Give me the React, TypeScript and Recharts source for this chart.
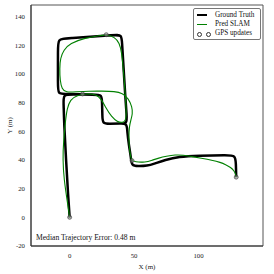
import React from 'react';
import { ScatterChart, Scatter, XAxis, YAxis, ReferenceArea } from 'recharts';

// Ground truth route, in driving order (corner points give the rounded turns)
const groundTruth = [
  { x: 0, y: 0 }, { x: -1.2, y: 15 }, { x: -2.8, y: 40 }, { x: -4.3, y: 65 },
  { x: -4.7, y: 79.5 }, { x: -5, y: 85.5 }, { x: 1, y: 85.6 },
  { x: 19.5, y: 85.5 }, { x: 25, y: 85.5 }, { x: 25.1, y: 80 },
  { x: 25.4, y: 70.5 }, { x: 25.5, y: 65.3 }, { x: 30.5, y: 65.2 },
  { x: 39.5, y: 65.3 }, { x: 44.5, y: 65.5 }, { x: 44.3, y: 70.5 },
  { x: 43, y: 86 }, { x: 41.8, y: 105 },
  { x: 40.6, y: 121.5 }, { x: 40.4, y: 127.3 }, { x: 35, y: 127.1 },
  { x: -3, y: 124.6 }, { x: -9, y: 124.3 }, { x: -9.1, y: 118 },
  { x: -9.1, y: 91.5 }, { x: -9.1, y: 86 }, { x: -3.5, y: 86 },
  { x: 19.5, y: 85.6 }, { x: 25, y: 85.6 }, { x: 25.1, y: 80 },
  { x: 25.4, y: 70.5 }, { x: 25.5, y: 65.3 }, { x: 30.5, y: 65.2 },
  { x: 39.5, y: 65.3 }, { x: 44.5, y: 65.5 }, { x: 44.6, y: 60 },
  { x: 46, y: 50 }, { x: 47.6, y: 41.5 }, { x: 48, y: 36 }, { x: 53, y: 35.6 },
  { x: 60, y: 35.8 }, { x: 66, y: 37.5 }, { x: 74, y: 40 }, { x: 84.5, y: 42.3 },
  { x: 100, y: 43 }, { x: 122.5, y: 43.4 }, { x: 128.5, y: 43.2 }, { x: 129, y: 37.5 },
  { x: 129.2, y: 28 },
];

// SLAM estimate, same route
const predSlam = [
  { x: 0, y: 0 }, { x: -2, y: 12 }, { x: -4.3, y: 26 }, { x: -5.4, y: 40 },
  { x: -4.7, y: 54 }, { x: -3.4, y: 66 }, { x: -2, y: 76 }, { x: 0.5, y: 82 },
  { x: 5.5, y: 85 }, { x: 14, y: 86.3 }, { x: 20.5, y: 85.6 }, { x: 24.5, y: 82.5 },
  { x: 28, y: 76.5 }, { x: 32.5, y: 70 }, { x: 37, y: 66.6 }, { x: 41, y: 65.8 },
  { x: 43.6, y: 67.5 }, { x: 44, y: 73 }, { x: 43.2, y: 85 }, { x: 42.3, y: 96 },
  { x: 41.3, y: 106 }, { x: 40.3, y: 115 }, { x: 38.6, y: 121.5 }, { x: 35, y: 125.7 },
  { x: 28.4, y: 127.3 }, { x: 23.8, y: 126.8 }, { x: 10.9, y: 124.8 }, { x: 0.5, y: 121.3 },
  { x: -4.7, y: 116.7 }, { x: -7.2, y: 110.9 }, { x: -7.8, y: 103.9 }, { x: -7.4, y: 95 },
  { x: -6, y: 89.5 }, { x: -3, y: 87 }, { x: 5, y: 87.5 }, { x: 15, y: 88 },
  { x: 25, y: 88 }, { x: 35, y: 87.8 }, { x: 41, y: 86.5 }, { x: 45.5, y: 83 },
  { x: 48.5, y: 77 }, { x: 48.8, y: 72 }, { x: 47.5, y: 68 }, { x: 46.2, y: 63 },
  { x: 45.9, y: 56 }, { x: 46.3, y: 48 }, { x: 47.3, y: 42 }, { x: 48.4, y: 39.5 },
  { x: 50.5, y: 38.6 }, { x: 58.7, y: 38.3 }, { x: 64, y: 39.8 }, { x: 69, y: 41.3 },
  { x: 75, y: 42.6 }, { x: 81.9, y: 43.6 }, { x: 88, y: 43.4 }, { x: 94.9, y: 42.3 },
  { x: 102, y: 41.2 }, { x: 110.4, y: 39.8 }, { x: 117, y: 38.3 }, { x: 121, y: 36.8 },
  { x: 125, y: 34.8 }, { x: 127.5, y: 32.5 }, { x: 128.8, y: 30 }, { x: 129.2, y: 28 },
];

const gpsUpdates = [
  { x: 0, y: 0 }, { x: 10, y: 86 }, { x: 28.4, y: 127.3 }, { x: 48.4, y: 39.5 }, { x: 129.2, y: 28 },
];

const xTicks = [0, 50, 100];
const yTicks = [-20, 0, 20, 40, 60, 80, 100, 120, 140];
const medianError = 0.48;

const FONT = '"Liberation Serif", "DejaVu Serif", serif';
const tickStyle = { fontSize: 6.8, fill: '#222', fontFamily: FONT };

const noDot = () => <g />;

const GpsDot = (props: any) => (
  <circle cx={props.cx} cy={props.cy} r={2} fill="rgba(140,140,140,0.6)" stroke="#333" strokeWidth={0.6} />
);

const LegendBox = () => (
  <div
    style={{
      position: 'absolute', left: 193, top: 8, width: 66, height: 30,
      border: '1px solid #777', borderRadius: 2, background: '#fff',
      fontFamily: FONT, fontSize: 7.2, color: '#111', whiteSpace: 'nowrap',
    }}
  >
    <div style={{ position: 'absolute', left: 3, top: 4.8, width: 10, height: 2.5, background: '#000' }} />
    <div style={{ position: 'absolute', left: 21, top: 2, lineHeight: '8px' }}>Ground Truth</div>
    <div style={{ position: 'absolute', left: 3, top: 14.7, width: 10, height: 1.2, background: '#008000' }} />
    <div style={{ position: 'absolute', left: 21, top: 11.3, lineHeight: '8px' }}>Pred SLAM</div>
    <div style={{ position: 'absolute', left: 2.5, top: 22.5, width: 3, height: 3, borderRadius: '50%', border: '0.7px solid #333' }} />
    <div style={{ position: 'absolute', left: 11.5, top: 22.5, width: 3, height: 3, borderRadius: '50%', border: '0.7px solid #333' }} />
    <div style={{ position: 'absolute', left: 21, top: 20.3, lineHeight: '8px' }}>GPS updates</div>
  </div>
);

export default function App() {
  return (
    <div style={{ position: 'fixed', left: 0, top: 0, width: 274, height: 274, background: '#fff' }}>
      <ScatterChart width={274} height={274} margin={{ top: 5, right: 11, left: 0, bottom: 0 }}>
        <XAxis
          type="number"
          dataKey="x"
          domain={[-30, 150]}
          ticks={xTicks}
          allowDataOverflow
          height={28}
          tickLine={false}
          tickMargin={1.5}
          axisLine={{ stroke: '#333' }}
          tick={tickStyle}
          label={{ value: 'X (m)', position: 'insideBottom', offset: 5, style: { fontSize: 7, fill: '#222', fontFamily: FONT } }}
        />
        <YAxis
          type="number"
          dataKey="y"
          domain={[-20, 148]}
          ticks={yTicks}
          allowDataOverflow
          width={31}
          tickLine={false}
          tickMargin={0}
          axisLine={{ stroke: '#333' }}
          tick={tickStyle}
          label={{ value: 'Y (m)', angle: -90, position: 'insideLeft', offset: 10, style: { fontSize: 7, fill: '#222', fontFamily: FONT, textAnchor: 'middle' } }}
        />
        <ReferenceArea x1={-30} x2={150} y1={-20} y2={148} fill="none" stroke="#555" strokeWidth={1} />
        <Scatter
          name="Ground Truth"
          data={groundTruth}
          line={{ stroke: '#000', strokeWidth: 2.5 }}
          lineType="joint"
          lineJointType="basis"
          shape={noDot}
          isAnimationActive={false}
        />
        <Scatter
          name="Pred SLAM"
          data={predSlam}
          line={{ stroke: '#008000', strokeWidth: 1.1 }}
          lineType="joint"
          lineJointType="basis"
          shape={noDot}
          isAnimationActive={false}
        />
        <Scatter name="GPS updates" data={gpsUpdates} shape={GpsDot} isAnimationActive={false} />
      </ScatterChart>
      <LegendBox />
      <div
        style={{
          position: 'absolute', left: 36, top: 234, fontFamily: FONT, fontSize: 7.6,
          color: '#111', lineHeight: '8px', whiteSpace: 'nowrap',
        }}
      >
        Median Trajectory Error: {medianError.toFixed(2)} m
      </div>
    </div>
  );
}
